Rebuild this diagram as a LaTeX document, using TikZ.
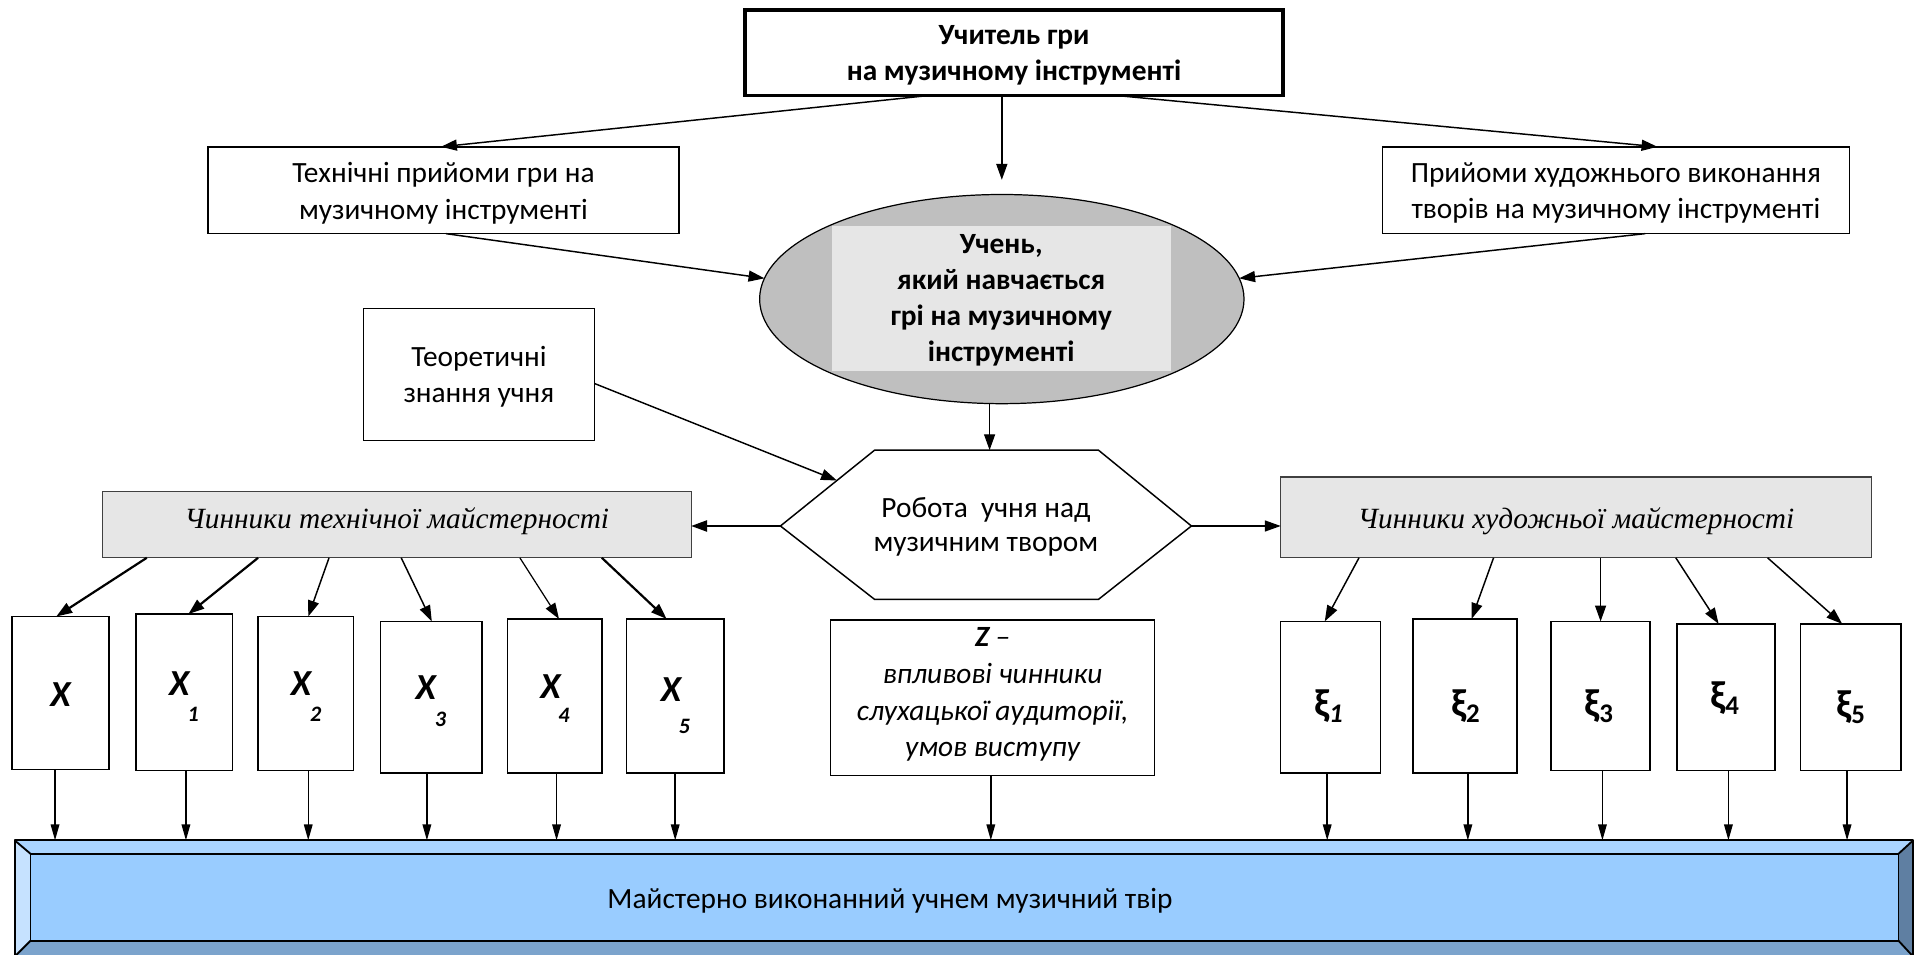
\documentclass[tikz,border=0pt]{standalone}
\usepackage{fontspec}
\setmainfont{Carlito}
\newfontfamily\serifit{Liberation Serif}
\usetikzlibrary{arrows.meta,shapes.geometric,calc}
\definecolor{ellfill}{HTML}{BFBFBF}
\definecolor{lightgray}{HTML}{E6E6E6}
\definecolor{barface}{HTML}{99CCFF}
\definecolor{bartop}{HTML}{ABD5FF}
\definecolor{barleft}{HTML}{C6E2FF}
\definecolor{barright}{HTML}{5F7FA2}
\definecolor{barbottom}{HTML}{7BA3CC}
\definecolor{boxline}{HTML}{404040}
\begin{document}
\begin{tikzpicture}[x=1pt,y=-1pt,
  every node/.style={inner sep=0pt,outer sep=0pt},
  txt/.style={font=\fontsize{24}{29.5}\selectfont,align=center},
  btxt/.style={font=\fontsize{24}{29.5}\selectfont\bfseries,align=center},
  plainbox/.style={draw,line width=1.2pt,fill=white},
  graybox/.style={draw=boxline,line width=1pt,fill=lightgray},
  xlab/.style={font=\fontsize{30}{30}\selectfont\bfseries\itshape},
  xsub/.style={font=\fontsize{18}{18}\selectfont\bfseries\itshape},
  xilab/.style={font=\fontsize{32}{32}\selectfont\bfseries},
  arr/.style={line width=1.2pt,-{Triangle[length=13pt,width=9pt]}},
  tarr/.style={line width=1.8pt,-{Triangle[length=13pt,width=9pt]}},
  downarr/.style={line width=1.2pt,-{Triangle[length=13pt,width=7pt]}},
  barline/.style={line width=1.5pt,line join=round}
]
\useasboundingbox (0,0) rectangle (1568,780);
\clip (0,0) rectangle (1568,780);
\fill[white] (0,0) rectangle (1568,780);

% top box
\node[draw,line width=3pt,fill=white,minimum width=440,minimum height=70] (top) at (829,43) {};
\node[btxt] (toptext) at (829,45.5) {Учитель гри\\на музичному інструменті};

% side boxes
\node[plainbox,minimum width=385,minimum height=71] (tech) at (362.5,155.5) {};
\node[txt] (techtext) at (362.5,158) {Технічні прийоми гри на\\музичному інструменті};
\node[plainbox,minimum width=382,minimum height=71] (art) at (1321,155.5) {};
\node[txt] (arttext) at (1321,158) {Прийоми художнього виконання\\творів на музичному інструменті};

% ellipse
\node[ellipse,draw,line width=1pt,fill=ellfill,minimum width=396,minimum height=171] (ell) at (819,244.5) {};
\node[fill=lightgray,minimum width=277,minimum height=118] (ellin) at (818.5,244) {};
\node[btxt] (elltext) at (818.5,245.5) {Учень,\\який навчається\\грі на музичному\\інструменті};

% theory box
\node[plainbox,minimum width=189,minimum height=108] (theory) at (391.5,306) {};
\node[txt] (theorytext) at (391.5,308) {Теоретичні\\знання учня};

% hexagon
\coordinate (hexL) at (638,430);
\coordinate (hexTL) at (715,368);
\coordinate (hexTR) at (898,368);
\coordinate (hexR) at (974,430);
\coordinate (hexBR) at (898,490);
\coordinate (hexBL) at (715,490);
\coordinate (hexT) at (809,368);
\draw[line width=1.2pt,fill=white] (hexL) -- (hexTL) -- (hexTR) -- (hexR) -- (hexBR) -- (hexBL) -- cycle;
\node[txt,font=\fontsize{24}{28}\selectfont] (hex) at (806,431) {Робота\ \ учня над\\музичним твором};

% gray factor boxes
\node[graybox,minimum width=481,minimum height=54] (gl) at (324.5,429) {};
\node[font=\fontsize{24}{24}\selectfont\serifit\itshape] (gltext) at (324.5,426) {Чинники технічної майстерності};
\node[graybox,minimum width=483,minimum height=66] (gr) at (1288.5,423) {};
\node[font=\fontsize{24}{24}\selectfont\serifit\itshape] (grtext) at (1288.5,426) {Чинники художньої майстерності};

% X boxes
\node[plainbox,minimum width=79,minimum height=125] (X0) at (49.5,566.5) {};
\node[plainbox,minimum width=79,minimum height=128] (X1) at (150.5,566) {};
\node[plainbox,minimum width=78,minimum height=126] (X2) at (250,567) {};
\node[plainbox,minimum width=83,minimum height=124] (X3) at (352.5,570) {};
\node[plainbox,minimum width=77,minimum height=126] (X4) at (453.5,569) {};
\node[plainbox,minimum width=80,minimum height=126] (X5) at (552,569) {};
\node[xlab] (X0l) at (49.5,568) {X};
\node[xlab] (X1l) at (146.5,559) {X};
\node[xsub] (X1s) at (158,584) {1};
\node[xlab] (X2l) at (246,559) {X};
\node[xsub] (X2s) at (258,584) {2};
\node[xlab] (X3l) at (348,562) {X};
\node[xsub] (X3s) at (360,588) {3};
\node[xlab] (X4l) at (450,561) {X};
\node[xsub] (X4s) at (461,585) {4};
\node[xlab] (X5l) at (548.5,564) {X};
\node[xsub] (X5s) at (559.5,594) {5};

% Z box
\node[plainbox,minimum width=265,minimum height=127] (Z) at (811.5,570.5) {};
\node[txt,font=\fontsize{24}{30}\selectfont\itshape] (Ztext) at (811.5,568) {\textbf{Z} –\\впливові чинники\\слухацької аудиторії,\\умов виступу};

% xi boxes
\node[plainbox,minimum width=81.5,minimum height=124] (Y1) at (1087.75,570) {};
\node[plainbox,minimum width=85,minimum height=126] (Y2) at (1197.5,569) {};
\node[plainbox,minimum width=81,minimum height=122] (Y3) at (1308.5,569) {};
\node[plainbox,minimum width=80,minimum height=120] (Y4) at (1411,570) {};
\node[plainbox,minimum width=82,minimum height=120] (Y5) at (1513,570) {};
\node[xilab] (Y1l) at (1086,577) {ξ\raisebox{-5pt}{\fontsize{22}{22}\selectfont\itshape 1}};
\node[xilab] (Y2l) at (1198,577) {ξ\raisebox{-5pt}{\fontsize{22}{22}\selectfont 2}};
\node[xilab] (Y3l) at (1307,577) {ξ\raisebox{-5pt}{\fontsize{22}{22}\selectfont 3}};
\node[xilab] (Y4l) at (1410,571) {ξ\raisebox{-5pt}{\fontsize{22}{22}\selectfont 4}};
\node[xilab] (Y5l) at (1513,578) {ξ\raisebox{-5pt}{\fontsize{22}{22}\selectfont 5}};

% bottom bevelled bar
\coordinate (bo1) at (12,687);
\coordinate (bo2) at (1564,687);
\coordinate (bo3) at (1564,782);
\coordinate (bo4) at (12,782);
\coordinate (bi1) at (25,698);
\coordinate (bi2) at (1552,698);
\coordinate (bi3) at (1552,769);
\coordinate (bi4) at (25,769);
\fill[bartop] (bo1) -- (bo2) -- (bi2) -- (bi1) -- cycle;
\fill[barright] (bo2) -- (bo3) -- (bi3) -- (bi2) -- cycle;
\fill[barbottom] (bo3) -- (bo4) -- (bi4) -- (bi3) -- cycle;
\fill[barleft] (bo4) -- (bo1) -- (bi1) -- (bi4) -- cycle;
\node[draw,barline,fill=barface,minimum width=1527,minimum height=71] (bar) at (788.5,733.5) {};
\draw[barline] (bo1) -- (bo2) -- (bo3) -- (bo4) -- cycle;
\draw[barline] (bo1) -- (bi1) (bo2) -- (bi2) (bo3) -- (bi3) (bo4) -- (bi4);
\node[txt] (bartext) at (727.5,736) {Майстерно виконанний учнем музичний твір};

% connectors: top level
\draw[arr] ([xshift=-69pt]top.south) -- ([xshift=-2pt]tech.north);
\draw[arr] ([xshift=83pt]top.south) -- ([xshift=34pt]art.north);
\draw[arr] (top.south -| ell.north) -- ([yshift=12pt]ell.north);
\draw[arr] ([xshift=2pt]tech.south) -- (ell.175);
\draw[arr] ([xshift=24pt]art.south) -- (ell.5);
\draw[arr] ([yshift=-7.5pt]theory.east) -- ($(hexL)!0.6!(hexTL)$);
\draw[arr] (hexT |- ell.south) -- (hexT);
\draw[tarr] (hexL) -- (gl.east |- hexL);
\draw[arr] (hexR) -- (gr.west |- hexR);

% gray box to X boxes
\draw[tarr] ([xshift=36pt]gl.south west) -- ([xshift=-3.5pt]X0.north);
\draw[tarr] ([xshift=127pt]gl.south west) -- ([xshift=3.5pt]X1.north);
\draw[arr] ([xshift=185pt]gl.south west) -- ([xshift=2pt]X2.north);
\draw[arr] ([xshift=244pt]gl.south west) -- ([xshift=0.5pt]X3.north);
\draw[line width=1pt,-{Triangle[length=13pt,width=9pt]}] ([xshift=341pt]gl.south west) -- ([xshift=3.5pt]X4.north);
\draw[tarr] ([xshift=408pt]gl.south west) -- ([xshift=-7pt]X5.north);

% gray box to xi boxes
\draw[arr] ([xshift=64pt]gr.south west) -- ([xshift=-4.75pt]Y1.north);
\draw[arr] ([xshift=174pt]gr.south west) -- ([xshift=5.5pt]Y2.north);
\draw[arr] (Y3.north |- gr.south) -- (Y3.north);
\draw[arr] ([xshift=323pt]gr.south west) -- ([xshift=-6pt]Y4.north);
\draw[arr] ([xshift=398pt]gr.south west) -- ([xshift=-7pt]Y5.north);

% down to bar
\foreach \n/\s in {X0/-4.5,X1/1.5,X2/2,X3/-3.5,X4/1.5,X5/0,Z/-1.5,Y1/-2.75,Y2/2.5,Y3/1.5,Y4/2,Y5/-3}{
  \draw[downarr] ([xshift=\s pt]\n.south) -- ([xshift=\s pt]\n.south |- bo1);
}
\end{tikzpicture}
\end{document}
